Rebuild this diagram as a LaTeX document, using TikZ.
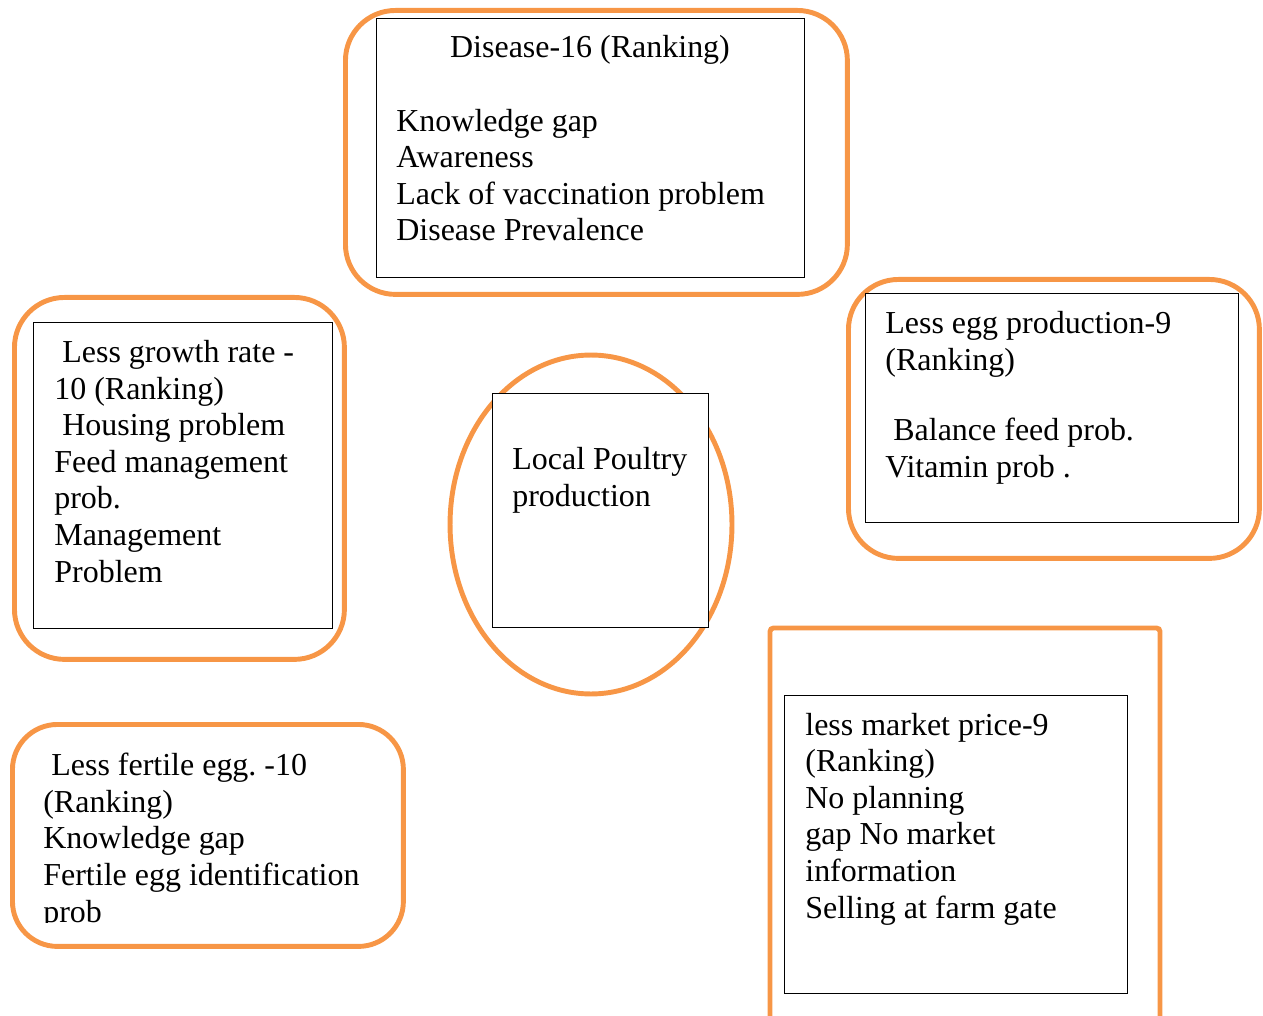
\documentclass[tikz,border=0pt]{standalone}
\usepackage{fontspec}
\setmainfont{Liberation Serif}
\usepackage{tikz}
\usetikzlibrary{shapes,arrows}
\frenchspacing
\definecolor{frameorange}{HTML}{F79646}
\tikzstyle{frame} = [rectangle, draw=frameorange, line width=2.8pt, rounded corners=1cm, anchor=north west, inner sep=0pt]
\tikzstyle{box} = [rectangle, draw=black, line width=0.7pt, fill=white, anchor=north west, inner sep=0pt]
\tikzstyle{txt} = [anchor=base west, align=left, inner sep=0pt, font=\fontsize{18.2}{20.8}\selectfont]

\begin{document}
\begin{tikzpicture}[x=0.02cm, y=-0.02cm]
        \useasboundingbox (0,0) rectangle (1263,1016);
        % orange frames
        \node (Dfr) [frame, minimum width=10.04cm, minimum height=5.68cm] at (343,8) {};
        \node (Gfr) [frame, minimum width=6.6cm, minimum height=7.24cm] at (12,295) {};
        \node (Efr) [frame, minimum width=8.22cm, minimum height=5.58cm] at (846,277) {};
        \node (Ffr) [frame, minimum width=7.82cm, minimum height=4.44cm, rounded corners=0.9cm] at (10,722) {};
        \node (Lfr) [ellipse, draw=frameorange, line width=2.8pt, minimum width=5.64cm, minimum height=6.78cm] at (591,524.5) {};
        \coordinate (Ma) at (770,1030);
        \coordinate (Mb) at (1160,1030);
        \draw [draw=frameorange, line width=2.8pt, rounded corners=2pt] (Ma) |- (965,628) -| (Mb);

        % black boxes
        \node (Dbox) [box, minimum width=8.56cm, minimum height=5.18cm] at (376,18) {};
        \node (Gbox) [box, minimum width=5.98cm, minimum height=6.12cm] at (33,322) {};
        \node (Lbox) [box, minimum width=4.32cm, minimum height=4.68cm] at (492,393) {};
        \node (Ebox) [box, minimum width=7.46cm, minimum height=4.58cm] at (865,293) {};
        \node (Mbox) [box, minimum width=6.86cm, minimum height=5.96cm] at (784,695) {};

        % texts (base = last line)
        \node (Dt) [txt, anchor=base] at (590,58) {Disease-16 (Ranking)};
        \node (D) [txt] at (396,241) {Knowledge gap\\Awareness\\Lack of vaccination problem\\Disease Prevalence};
        \node (G) [txt] at (54,582) {\hspace*{.25em}Less growth rate -\\10 (Ranking)\\\hspace*{.25em}Housing problem\\Feed management\\prob.\\Management\\Problem};
        \node (L) [txt] at (512,506) {Local Poultry\\production};
        \node (E) [txt] at (885,477) {Less egg production-9\\(Ranking)\\[19pt]\hspace*{.25em}Balance feed prob.\\Vitamin prob .};
        \node (M) [txt] at (805,918) {less market price-9\\(Ranking)\\No planning\\gap No market\\information\\Selling at farm gate};
        \begin{scope}
        \clip (0,700) rectangle (420,922);
        \node (F) [txt] at (43,922) {\hspace*{.25em}Less fertile egg. -10\\(Ranking)\\Knowledge gap\\Fertile egg identification\\prob};
        \end{scope}
    \end{tikzpicture}
\end{document}
